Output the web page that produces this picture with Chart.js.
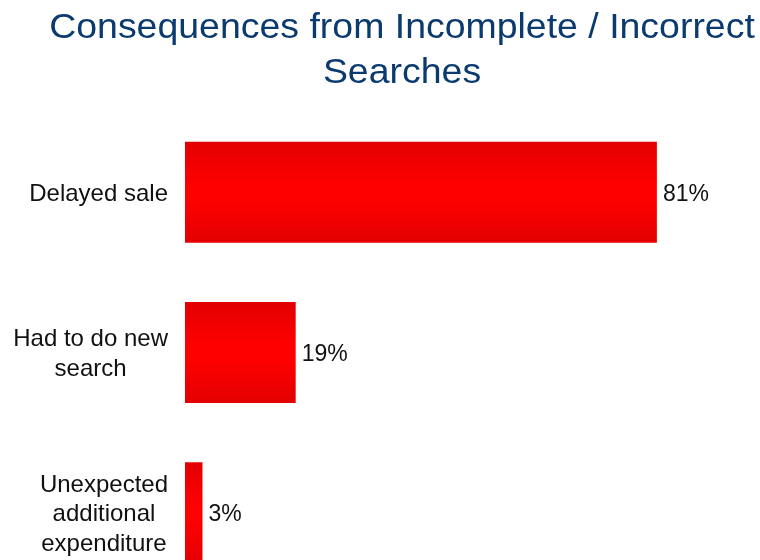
<!DOCTYPE html>
<html>
<head>
<meta charset="utf-8">
<script src="https://cdn.jsdelivr.net/npm/chart.js@4.4.1/dist/chart.umd.min.js"></script>
<style>
  html, body { margin: 0; padding: 0; background: #fff; overflow: hidden; }
  #wrap { width: 760px; height: 560px; overflow: hidden; }
</style>
</head>
<body>
<div id="wrap"><canvas id="barChart" width="760" height="600"></canvas></div>
<script>
// Survey results
const titleLines = ['Consequences from Incomplete / Incorrect', 'Searches'];
const categories = [
  ['Delayed sale'],
  ['Had to do new', 'search'],
  ['Unexpected', 'additional', 'expenditure']
];
const percentages = [81, 19, 3];

const FONT = '"Liberation Sans", Arial, sans-serif';
const ctx = document.getElementById('barChart').getContext('2d');

// Shade each bar darker at its top and bottom edges
const barShading = {
  id: 'barShading',
  beforeDatasetsDraw(chart) {
    const {ctx} = chart;
    chart.getDatasetMeta(0).data.forEach(bar => {
      const top = bar.y - bar.height / 2;
      const bottom = bar.y + bar.height / 2;
      const grad = ctx.createLinearGradient(0, top, 0, bottom);
      grad.addColorStop(0, '#e30000');
      grad.addColorStop(0.45, '#ff0000');
      grad.addColorStop(0.55, '#ff0000');
      grad.addColorStop(1, '#e30000');
      // options are shared between bars, so give each its own copy
      bar.options = Object.assign({}, bar.options, {backgroundColor: grad});
    });
  }
};

// Two-line heading, slightly stretched horizontally
const heading = {
  id: 'heading',
  afterDraw(chart) {
    const {ctx} = chart;
    ctx.save();
    ctx.font = '35px ' + FONT;
    ctx.fillStyle = '#0b3a6e';
    ctx.textAlign = 'center';
    ctx.textBaseline = 'alphabetic';
    ctx.translate(402, 0);
    ctx.scale(1.07, 1);
    ctx.fillText(titleLines[0], 0, 38);
    ctx.fillText(titleLines[1], 0, 83);
    ctx.restore();
  }
};

// Category names, lines centred within each block, block right-aligned
const categoryLabels = {
  id: 'categoryLabels',
  afterDraw(chart) {
    const {ctx, scales: {y}} = chart;
    const lineHeight = 29.5;
    ctx.save();
    ctx.font = '24px ' + FONT;
    ctx.fillStyle = '#111';
    ctx.textAlign = 'center';
    ctx.textBaseline = 'middle';
    categories.forEach((lines, i) => {
      const widest = Math.max(...lines.map(l => ctx.measureText(l).width));
      const cx = y.right - 17 - widest / 2;
      const cy = y.getPixelForTick(i) + 2;
      lines.forEach((line, j) => {
        ctx.fillText(line, cx, cy + (j - (lines.length - 1) / 2) * lineHeight);
      });
    });
    ctx.restore();
  }
};

// Percentage just past the end of each bar
const valueLabels = {
  id: 'valueLabels',
  afterDatasetsDraw(chart) {
    const {ctx} = chart;
    ctx.save();
    ctx.font = '23px ' + FONT;
    ctx.fillStyle = '#111';
    ctx.textAlign = 'left';
    ctx.textBaseline = 'middle';
    chart.getDatasetMeta(0).data.forEach((bar, i) => {
      ctx.fillText(percentages[i] + '%', bar.x + 6, bar.y + 2);
    });
    ctx.restore();
  }
};

const barChart = new Chart(ctx, {
  type: 'bar',
  data: {
    labels: categories,
    datasets: [{
      data: percentages,
      backgroundColor: '#ff0000',
      borderWidth: 0,
      barPercentage: 0.63,
      categoryPercentage: 1
    }]
  },
  options: {
    indexAxis: 'y',
    responsive: false,
    animation: false,
    layout: {padding: {top: 112, bottom: 7}},
    plugins: {
      legend: {display: false},
      tooltip: {enabled: false},
      title: {display: false}
    },
    scales: {
      x: {
        display: false,
        min: 0,
        max: 98.7
      },
      y: {
        afterFit(scale) { scale.width = 185; },
        grid: {display: false, drawTicks: false},
        border: {display: false},
        ticks: {display: false}
      }
    }
  },
  plugins: [barShading, valueLabels, categoryLabels, heading]
});
</script>
</body>
</html>
